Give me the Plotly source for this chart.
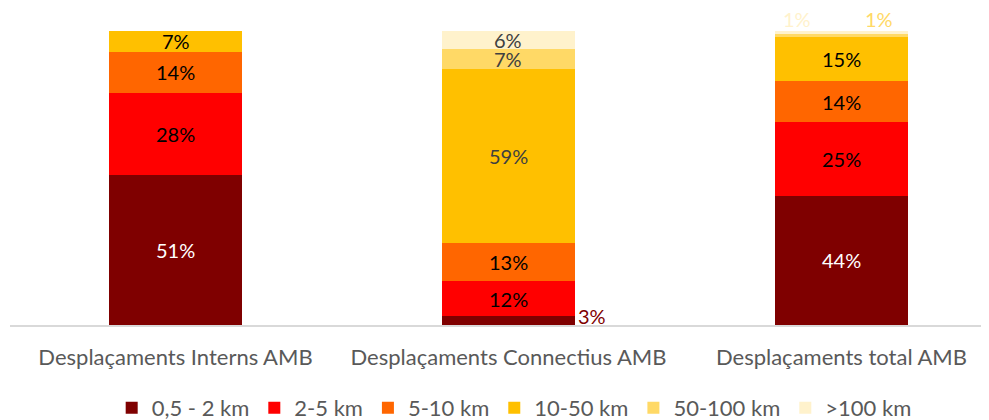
import plotly.graph_objects as go

categories = ["Desplaçaments Interns AMB", "Desplaçaments Connectius AMB", "Desplaçaments total AMB"]
series_names = ["0,5 - 2 km", "2-5 km", "5-10 km", "10-50 km", "50-100 km", ">100 km"]
v_05_2 = [51, 3, 44]
v_2_5 = [28, 12, 25]
v_5_10 = [14, 13, 14]
v_10_50 = [7, 59, 15]
v_50_100 = [0, 7, 1]
v_100 = [0, 6, 1]
series_values = [v_05_2, v_2_5, v_5_10, v_10_50, v_50_100, v_100]
colors = ["#7F0000", "#FF0000", "#FF6600", "#FFC000", "#FFD966", "#FFF2CC"]

FONT = "Lato, 'Open Sans', sans-serif"

fig = go.Figure()
for name, vals, col in zip(series_names, series_values, colors):
    fig.add_trace(go.Bar(
        x=categories, y=vals, name=name, marker=dict(color=col, line=dict(width=0)),
        width=0.4, hoverinfo="skip",
    ))

# label colours per series (inside labels)
inside_colors = {
    0: ["#FFFFFF", None, "#FFFFFF"],
    1: ["#000000", "#000000", "#000000"],
    2: ["#000000", "#000000", "#000000"],
    3: ["#000000", "#404040", "#000000"],
    4: [None, "#404040", None],
    5: [None, "#404040", None],
}

annotations = []
cum = [0, 0, 0]
for si, vals in enumerate(series_values):
    for ci, v in enumerate(vals):
        if v <= 0:
            continue
        mid = cum[ci] + v / 2
        col = inside_colors[si][ci]
        if col is not None:
            annotations.append(dict(
                x=categories[ci], y=mid, xref="x", yref="y", text=f"{v}%",
                showarrow=False, font=dict(family=FONT, size=20, color=col),
                xanchor="center", yanchor="middle",
            ))
        cum[ci] += v

# outside labels for small segments
annotations.append(dict(
    x=categories[1], y=v_05_2[1] / 2, xref="x", yref="y", text=f"{v_05_2[1]}%",
    showarrow=False, font=dict(family=FONT, size=20, color="#7F0000"),
    xanchor="left", yanchor="middle", xshift=68, yshift=5,
))
total3 = sum(s[2] for s in series_values)
annotations.append(dict(
    x=categories[2], y=total3, xref="x", yref="y", text=f"{v_100[2]}%",
    showarrow=False, font=dict(family=FONT, size=20, color="#FFF2CC"),
    xanchor="center", yanchor="bottom", xshift=-44, yshift=-2,
))
annotations.append(dict(
    x=categories[2], y=total3, xref="x", yref="y", text=f"{v_50_100[2]}%",
    showarrow=False, font=dict(family=FONT, size=20, color="#FFD966"),
    xanchor="center", yanchor="bottom", xshift=38, yshift=-2,
))

fig.update_layout(
    width=981, height=412,
    margin=dict(l=2, r=0, t=0, b=95, autoexpand=False),
    barmode="stack",
    plot_bgcolor="white", paper_bgcolor="white",
    showlegend=True,
    legend=dict(
        orientation="h", x=0.515, xanchor="center", y=-0.262, yanchor="middle",
        traceorder="normal", font=dict(family=FONT, size=22, color="#595959"),
        itemwidth=30,
    ),
    annotations=annotations,
    font=dict(family=FONT),
)
fig.update_xaxes(
    type="category", range=[-0.497, 2.443], automargin=False,
    showline=True, linecolor="#D9D9D9", linewidth=2,
    showgrid=False, ticks="", ticklabelstandoff=12,
    tickfont=dict(family=FONT, size=22, color="#595959"),
)
fig.update_yaxes(range=[0, 107.82], visible=False, showgrid=False, automargin=False)

fig.write_html("out.html")
